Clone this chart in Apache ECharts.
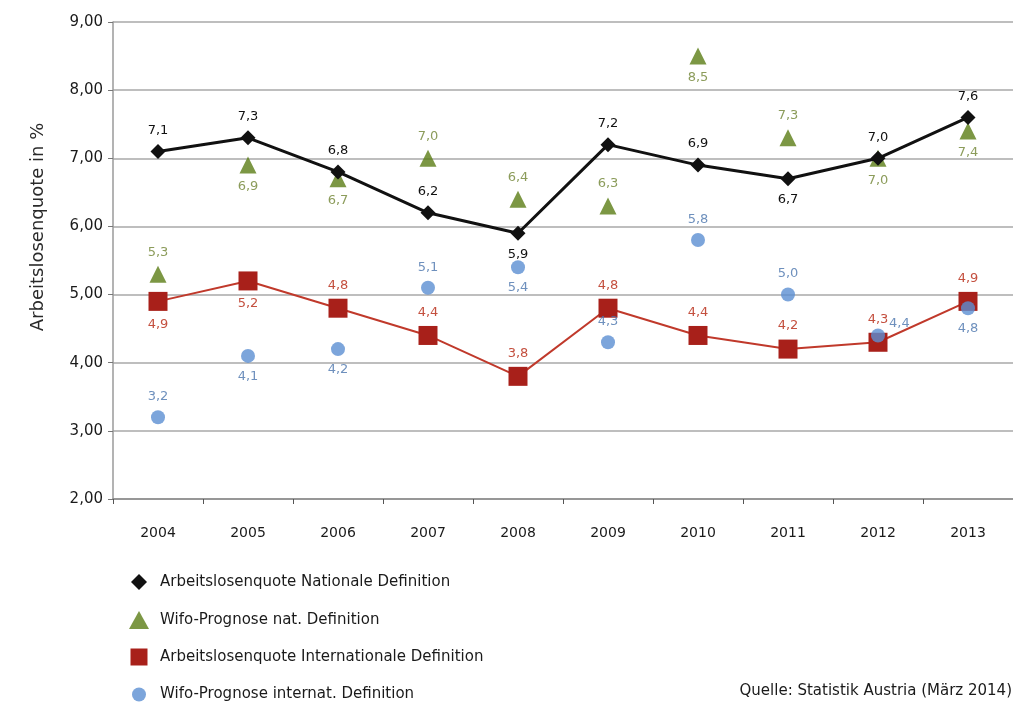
<!DOCTYPE html>
<html><head><meta charset="utf-8">
<script src="https://cdn.jsdelivr.net/npm/echarts@6/dist/echarts.min.js"></script>
<style>html,body{margin:0;padding:0;background:#fff}#c{width:1013px;height:703px}</style>
</head><body><div id="c"></div>
<script>
const years = ['2004','2005','2006','2007','2008','2009','2010','2011','2012','2013'];
const nationalValues = [7.1, 7.3, 6.8, 6.2, 5.9, 7.2, 6.9, 6.7, 7.0, 7.6];
const wifoNatValues = [5.3, 6.9, 6.7, 7.0, 6.4, 6.3, 8.5, 7.3, 7.0, 7.4];
const internationalValues = [4.9, 5.2, 4.8, 4.4, 3.8, 4.8, 4.4, 4.2, 4.3, 4.9];
const wifoIntValues = [3.2, 4.1, 4.2, 5.1, 5.4, 4.3, 5.8, 5.0, 4.4, 4.8];
const seriesNames = ['Arbeitslosenquote Nationale Definition','Wifo-Prognose nat. Definition','Arbeitslosenquote Internationale Definition','Wifo-Prognose internat. Definition'];

// label placement (style only)
const natPos = ['top','top','top','top','bottom','top','top','bottom','top','top'];
const wnPos  = ['top','bottom','bottom','top','top','top','bottom','top','bottom','bottom'];
const intPos = ['bottom','bottom','top','top','top','top','top','top','top','top'];
const wiPos  = ['top','bottom','bottom','top','bottom','top','top','top','right','bottom'];

const FONT = 'DejaVu Sans';
const fmt = v => v.toFixed(1).replace('.', ',');
function items(vals, pos, color) {
  return vals.map((v, i) => ({
    value: v,
    label: { show: true, position: pos[i], distance: pos[i]==='right' ? 4 : 7,
             formatter: p => fmt(p.value), color: color, fontSize: 13, fontFamily: FONT,
             offset: pos[i]==='right' ? [0,-12] : [0,0] }
  }));
}
const icons = ['diamond','triangle','rect','circle'];
const legendTops = [573, 611, 648, 685];
const iconW = [16, 20, 17, 14];
const iconH = [16, 18, 17, 14];

const chart = echarts.init(document.getElementById('c'), null, {renderer:'canvas'});
chart.setOption({
  backgroundColor: '#fff',
  animation: false,
  grid: { left: 113, right: 0, top: 22, bottom: 204 },
  xAxis: {
    type: 'category', data: years, boundaryGap: true,
    axisLine: { lineStyle: { color: '#8a8a8a', width: 1.5 } },
    axisTick: { show: true, lineStyle: { color: '#555' }, length: 5 },
    axisLabel: { color: '#1a1a1a', fontSize: 14, fontFamily: FONT, margin: 27 }
  },
  yAxis: {
    type: 'value', min: 2, max: 9, interval: 1,
    axisLine: { show: true, lineStyle: { color: '#9a9a9a', width: 1.5 } },
    axisTick: { show: true, length: 5, lineStyle: { color: '#777' } },
    axisLabel: { color: '#1a1a1a', fontSize: 15, fontFamily: FONT, margin: 10, formatter: v => v.toFixed(2).replace('.', ',') },
    splitLine: { lineStyle: { color: '#a8a8a8', width: 1.5 } }
  },
  legend: seriesNames.map((n, i) => ({
    orient: 'vertical', left: 139 - iconW[i] / 2, top: legendTops[i] + (18 - iconH[i]) / 2, padding: 0,
    itemWidth: iconW[i], itemHeight: iconH[i],
    textStyle: { color: '#1a1a1a', fontSize: 15, fontFamily: FONT,
                 padding: [0, 0, 0, 160 - (139 - iconW[i] / 2 + iconW[i] + 5)] },
    data: [{ name: n, icon: icons[i] }]
  })),
  graphic: [{
    type: 'text', right: 1, top: 684,
    style: { text: 'Quelle: Statistik Austria (März 2014)', fill: '#1a1a1a', fontSize: 15, fontFamily: FONT }
  }, {
    type: 'text', x: 38, y: 227, rotation: Math.PI / 2,
    style: { text: 'Arbeitslosenquote in %', fill: '#2a2a2a', fontSize: 18, fontFamily: FONT,
             align: 'center', verticalAlign: 'middle' }
  }],
  series: [
    { name: seriesNames[2], type: 'line', data: items(internationalValues, intPos, '#c4503f'),
      symbol: 'rect', symbolSize: 19, z: 2,
      lineStyle: { color: '#c0392b', width: 2 }, itemStyle: { color: '#a8201a' } },
    { name: seriesNames[0], type: 'line', data: items(nationalValues, natPos, '#111'),
      symbol: 'diamond', symbolSize: 15, z: 4,
      lineStyle: { color: '#111', width: 3 }, itemStyle: { color: '#111' } },
    { name: seriesNames[1], type: 'scatter', data: items(wifoNatValues, wnPos, '#6f8332'),
      symbol: 'triangle', symbolSize: 17, z: 3, itemStyle: { color: '#5b7d15' } },
    { name: seriesNames[3], type: 'scatter', data: items(wifoIntValues, wiPos, '#4a74ad'),
      symbol: 'circle', symbolSize: 14, z: 3, itemStyle: { color: '#5b8ed2' } }
  ]
});
</script></body></html>
